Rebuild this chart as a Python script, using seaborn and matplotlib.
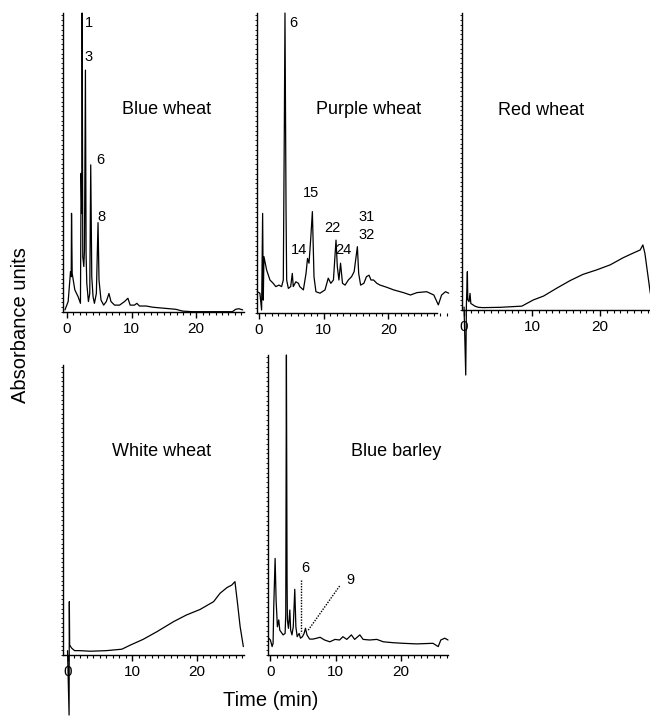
import numpy as np
import pandas as pd
import matplotlib
matplotlib.use('Agg')
import matplotlib.pyplot as plt
from matplotlib.ticker import MultipleLocator
import seaborn as sns

sns.set_style('ticks')
plt.rcParams['font.family'] = ['Liberation Sans', 'DejaVu Sans']
plt.rcParams.update({'text.color': 'black', 'axes.edgecolor': 'black',
                     'xtick.color': 'black', 'ytick.color': 'black'})

# --- traces (time in min, absorbance in % of panel full scale) ---
blue_wheat_t = [-0.3, 0.2, 0.56, 0.67, 0.72, 0.82, 1.23, 1.74, 2.10, 2.20, 2.31, 2.36, 2.46,
                2.62, 2.72, 2.87, 2.97, 3.08, 3.33, 3.54, 3.69, 3.85, 4.05, 4.26, 4.56, 4.82,
                4.97, 5.28, 5.69, 6.10, 6.51, 6.82, 7.38, 8.15, 8.92, 9.44, 9.79, 10.46,
                10.82, 11.23, 12.26, 13.28, 14.3, 15.33, 16.87, 17.9, 19.4, 25.6, 26.1,
                26.6, 27.2]
blue_wheat_a = [0.7, 3.5, 13.5, 11.8, 33.0, 12.9, 7.4, 5.1, 2.9, 46.4, 33.0, 100, 18.5,
                15.2, 20.7, 80.9, 19.6, 9.6, 3.5, 6.2, 49.2, 11.8, 5.1, 2.9, 6.2, 29.9,
                10.7, 4.0, 2.3, 3.5, 6.2, 3.5, 2.3, 2.3, 3.5, 4.6, 2.3, 2.3,
                2.9, 2.0, 2.0, 1.6, 1.4, 1.2, 0.9, 0.3, 0.1, 0.1, 0.9,
                1.1, 0.7]

purple_wheat_t = [-0.26, 0.15, 0.41, 0.57, 0.67, 0.77, 1.19, 1.7, 2.2, 2.6, 3.1, 3.5, 3.76,
                  3.92, 4.02, 4.12, 4.18, 4.28, 4.54, 4.9, 5.15, 5.3, 5.7, 6.1, 6.3, 6.86,
                  7.27, 7.5, 7.73, 8.0, 8.25, 8.5, 8.8, 9.43, 10.2, 10.7, 11.1, 11.5, 11.9,
                  12.1, 12.35, 12.6, 12.9, 13.3, 13.8, 14.3, 14.7, 15.0, 15.2, 15.4, 15.7,
                  16.2, 16.6, 17.0, 17.3, 17.7, 18.2, 18.7, 19.7, 20.8, 22.3, 23.4, 24.4,
                  25.9, 27.0, 27.7, 28.2, 28.8, 29.3]
purple_wheat_a = [7.1, 6.6, 1.0, 33.2, 4.3, 18.8, 14.3, 11.0, 9.9, 8.8, 9.3, 8.8, 11.0,
                  62.0, 100, 60.0, 35.4, 11.0, 8.2, 8.8, 13.2, 8.8, 10.4, 9.9, 8.8, 7.7,
                  13.2, 18.2, 16.6, 24.9, 33.8, 12.1, 7.1, 6.6, 7.7, 11.6, 9.9, 11.0, 24.3,
                  15.5, 11.0, 16.6, 9.9, 9.3, 11.0, 12.1, 13.8, 18.8, 22.1, 13.2, 9.3,
                  9.9, 12.1, 12.6, 11.0, 11.0, 9.9, 9.3, 8.6, 7.7, 6.8, 6.0, 6.8,
                  7.1, 6.0, 2.7, 6.0, 7.1, 6.6]

red_wheat_t = [0.0, 0.25, 0.35, 0.49, 0.55, 0.74, 0.88, 1.0, 1.6, 2.1, 2.8, 5.3, 8.5, 10.2,
               11.7, 13.6, 15.6, 17.5, 19.5, 21.5, 23.4, 25.1, 25.9, 26.3, 26.6, 27.4]
red_wheat_a = [1.0, -21.9, 2.0, 12.9, 3.5, 2.8, 5.6, 2.2, 1.3, 0.9, 0.8, 0.9, 1.3, 3.4,
               4.7, 7.3, 9.9, 12.0, 13.5, 15.2, 17.6, 19.4, 20.2, 21.9, 19.1, 5.6]

white_wheat_t = [0.0, 0.24, 0.28, 0.33, 0.47, 0.67, 1.1, 1.9, 3.5, 6.0, 8.4, 9.7, 11.7, 13.8,
                 16.4, 18.4, 20.5, 22.6, 23.6, 24.7, 25.4, 25.9, 26.3, 26.7, 27.2]
white_wheat_a = [1.5, -20.7, 18.4, 3.5, 2.9, 2.3, 1.5, 1.5, 1.3, 1.5, 2.0, 3.4, 5.4, 8.0,
                 11.5, 13.8, 15.7, 18.4, 21.3, 23.3, 24.1, 25.3, 17.8, 9.8, 2.9]

blue_barley_t = [-0.26, 0.0, 0.26, 0.41, 0.51, 0.72, 0.87, 1.07, 1.28, 1.43, 1.94, 2.25, 2.35,
                 2.45, 2.55, 2.6, 2.76, 2.97, 3.1, 3.3, 3.5, 3.73, 3.9, 4.1, 4.4, 4.6, 4.9,
                 5.16, 5.37, 5.6, 6.0, 6.5, 7.1, 7.6, 8.3, 9.1, 9.9, 10.6, 11.1, 11.7, 12.4,
                 12.9, 13.7, 14.2, 15.2, 16.3, 17.3, 18.8, 20.3, 22.4, 24.9, 25.7, 26.1,
                 26.7, 27.2]
blue_barley_a = [5.6, 5.0, 2.8, 3.9, 16.1, 32.2, 18.3, 9.4, 11.7, 8.3, 6.7, 7.2, 13.9,
                 100, 25.0, 11.7, 8.9, 15.0, 8.3, 6.7, 9.4, 21.9, 9.4, 6.1, 7.2, 5.6, 6.1,
                 7.2, 8.9, 6.7, 5.3, 5.3, 5.6, 5.9, 5.0, 4.4, 5.2, 5.0, 6.1, 5.2, 6.7,
                 5.2, 6.7, 5.2, 5.0, 5.2, 4.4, 4.1, 3.9, 3.7, 3.9, 2.8, 5.0,
                 5.6, 5.0]

# peak numbers: (label, time, absorbance)
blue_wheat_peaks = [('1', 3.4, 96.7), ('3', 3.4, 85.3), ('6', 5.1, 50.8), ('8', 5.4, 31.8)]
purple_wheat_peaks = [('6', 5.3, 96.6), ('15', 8.0, 39.9), ('14', 6.2, 21.0), ('22', 11.4, 28.2),
                      ('24', 13.1, 21.0), ('31', 16.6, 32.1), ('32', 16.6, 26.0)]
blue_barley_peaks = [('6', 5.3, 28.9), ('9', 12.2, 25.0)]
# dotted leader lines in blue barley: (t0, a0, t1, a1)
blue_barley_leaders = [(4.65, 25.0, 4.65, 7.2), (10.6, 23.0, 5.8, 8.3)]

# panel layout in pixels: left, top, right, bottom ; x-range ; title position
W, H = 650, 719
panels = [
    dict(name='Blue wheat', t=blue_wheat_t, a=blue_wheat_a, peaks=blue_wheat_peaks,
         box=(63, 13, 244, 312), xlim=(-0.6, 27.4), span=(-0.6, 27.4), title=(15.4, 67.6)),
    dict(name='Purple wheat', t=purple_wheat_t, a=purple_wheat_a, peaks=purple_wheat_peaks,
         box=(257, 13, 450, 313), xlim=(-0.3, 29.5), span=(-0.3, 27.5), title=(17.0, 67.7)),
    dict(name='Red wheat', t=red_wheat_t, a=red_wheat_a, peaks=[],
         box=(462, 13, 650, 310), xlim=(-0.3, 27.35), span=(-0.3, 27.35), title=(11.4, 67.3)),
    dict(name='White wheat', t=white_wheat_t, a=white_wheat_a, peaks=[],
         box=(63, 365, 244, 655), xlim=(-0.7, 27.3), span=(-0.7, 27.3), title=(14.6, 70.1)),
    dict(name='Blue barley', t=blue_barley_t, a=blue_barley_a, peaks=blue_barley_peaks,
         box=(268, 355, 448, 655), xlim=(-0.37, 27.2), span=(-0.37, 27.2), title=(19.2, 67.8)),
]

fig = plt.figure(figsize=(W / 100, H / 100), dpi=100)

for p in panels:
    l, t, r, b = p['box']
    ax = fig.add_axes([l / W, 1 - b / H, (r - l) / W, (b - t) / H])
    df = pd.DataFrame({'time': p['t'], 'abs': p['a']})
    sns.lineplot(data=df, x='time', y='abs', ax=ax, sort=False, estimator=None,
                 color='black', lw=0.9)
    for line in ax.lines:
        line.set_clip_on(False)
    ax.set_xlim(*p['xlim'])
    ax.set_ylim(0, 100)
    ax.set_xlabel('')
    ax.set_ylabel('')
    for s in ['top', 'right']:
        ax.spines[s].set_visible(False)
    ax.spines['left'].set_linewidth(1.0)
    ax.spines['bottom'].set_linewidth(1.0)
    ax.spines['bottom'].set_bounds(*p['span'])
    ax.set_xticks([0, 10, 20])
    ax.xaxis.set_minor_locator(MultipleLocator(1))
    ax.set_yticks([])
    ax.yaxis.set_minor_locator(MultipleLocator(1.6))
    ax.tick_params(axis='x', which='major', length=4, width=1, labelsize=11, pad=3)
    ax.tick_params(axis='x', which='minor', length=2, width=0.8)
    ax.tick_params(axis='y', which='minor', length=1.2, width=0.6)
    ax.patch.set_visible(False)
    ax.text(p['title'][0], p['title'][1], p['name'], ha='center', va='center', fontsize=13)
    for lab, x, y in p['peaks']:
        ax.text(x, y, lab, ha='center', va='center', fontsize=10.5)
    if p['name'] == 'Blue barley':
        for x0, y0, x1, y1 in blue_barley_leaders:
            ax.plot([x0, x1], [y0, y1], color='black', lw=1.0, ls=(0, (1, 1)))

fig.text(21 / W, 1 - 325 / H, 'Absorbance units', rotation=90, ha='center', va='center',
         fontsize=14.5)
fig.text(271 / W, 1 - 700 / H, 'Time (min)', ha='center', va='center', fontsize=14.5)

fig.savefig('out.png', dpi=100)
